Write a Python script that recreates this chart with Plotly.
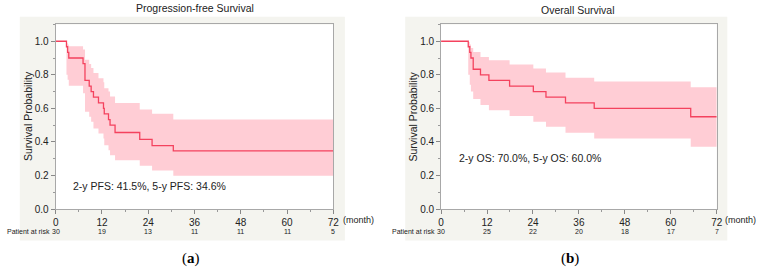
import plotly.graph_objects as go

W, H = 760, 274

# ---------------- data ----------------
pfs_time = [0, 2.8, 3.1, 3.4, 7.1, 7.6, 8.7, 9.2, 9.8, 11.1, 12.4, 12.6, 13.7, 14.1, 15.4, 21.8, 25.0, 30.5, 72]
pfs_surv = [1.0, 0.967, 0.933, 0.900, 0.867, 0.767, 0.733, 0.700, 0.667, 0.633, 0.600, 0.567, 0.533, 0.500, 0.456, 0.415, 0.378, 0.346, 0.346]
pfs_upper = [1.0, 0.99, 0.98, 0.97, 0.95, 0.89, 0.865, 0.84, 0.81, 0.78, 0.755, 0.72, 0.70, 0.67, 0.632, 0.593, 0.568, 0.533, 0.533]
pfs_lower = [1.0, 0.80, 0.77, 0.735, 0.69, 0.58, 0.55, 0.52, 0.48, 0.45, 0.42, 0.38, 0.35, 0.32, 0.29, 0.258, 0.229, 0.198, 0.198]

os_time = [0, 7.1, 7.5, 7.8, 8.4, 10.3, 12.5, 17.9, 24.1, 27.4, 32.5, 40.0, 65.2, 72]
os_surv = [1.0, 0.967, 0.933, 0.900, 0.833, 0.800, 0.767, 0.733, 0.700, 0.667, 0.633, 0.600, 0.550, 0.550]
os_upper = [1.0, 0.995, 0.98, 0.96, 0.936, 0.906, 0.887, 0.861, 0.838, 0.814, 0.783, 0.76, 0.725, 0.725]
os_lower = [1.0, 0.80, 0.74, 0.70, 0.655, 0.62, 0.588, 0.555, 0.52, 0.49, 0.455, 0.42, 0.371, 0.371]

risk_times = [0, 12, 24, 36, 48, 60, 72]
pfs_risk = [30, 19, 13, 11, 11, 11, 5]
os_risk = [30, 25, 22, 20, 18, 17, 7]

titles = ["Progression-free Survival", "Overall Survival"]
notes = ["2-y PFS: 41.5%, 5-y PFS: 34.6%", "2-y OS: 70.0%, 5-y OS: 60.0%"]
labels = ["(<b>a</b>)", "(<b>b</b>)"]

# ---------------- style ----------------
LINE = "#f4425e"
BAND = "#ffcdd5"
PANEL = "#f4f4ef"
FONT = "Liberation Sans"
TXT = "#222222"

def px(x):
    return x / W

def py(y):
    return 1 - y / H

fig = go.Figure()

panels = [
    dict(xa="x", ya="y", t=pfs_time, s=pfs_surv, u=pfs_upper, l=pfs_lower),
    dict(xa="x2", ya="y2", t=os_time, s=os_surv, u=os_upper, l=os_lower),
]
for p in panels:
    fig.add_trace(go.Scatter(x=p["t"], y=p["l"], mode="lines", line=dict(width=0, shape="hv", color=BAND),
                             xaxis=p["xa"], yaxis=p["ya"], showlegend=False, hoverinfo="skip"))
    fig.add_trace(go.Scatter(x=p["t"], y=p["u"], mode="lines", line=dict(width=0, shape="hv", color=BAND),
                             fill="tonexty", fillcolor=BAND,
                             xaxis=p["xa"], yaxis=p["ya"], showlegend=False, hoverinfo="skip"))
    fig.add_trace(go.Scatter(x=p["t"], y=p["s"], mode="lines", line=dict(width=1.3, shape="hv", color=LINE),
                             xaxis=p["xa"], yaxis=p["ya"], showlegend=False))

# plot areas in pixels
PT, PB = 25, 213.7
X1 = (53.3, 334.3)
X2 = (443.3, 722.3)
dom_y = [py(PB), py(PT)]
dom_x1 = [px(X1[0]), px(X1[1])]
dom_x2 = [px(X2[0]), px(X2[1])]

axis_common_x = dict(range=[0, 72], tickvals=risk_times, ticks="outside", ticklen=4, tickcolor="#888",
                     showline=True, linecolor="#a8a8a8", linewidth=1, mirror=True, showgrid=False,
                     zeroline=False, tickfont=dict(family=FONT, size=10, color=TXT),
                     minor=dict(dtick=6, ticks="outside", ticklen=2, tickcolor="#999"))
axis_common_y = dict(range=[0, 1.1], tickvals=[0, 0.2, 0.4, 0.6, 0.8, 1.0], tickformat=".1f",
                     ticks="outside", ticklen=4, tickcolor="#888",
                     showline=True, linecolor="#a8a8a8", linewidth=1, mirror=True, showgrid=False,
                     zeroline=False, tickfont=dict(family=FONT, size=10, color=TXT),
                     minor=dict(dtick=0.1, ticks="outside", ticklen=2, tickcolor="#999"))

fig.update_layout(
    width=W, height=H, margin=dict(l=0, r=0, t=0, b=0),
    paper_bgcolor="white", plot_bgcolor="rgba(0,0,0,0)",
    xaxis=dict(domain=dom_x1, anchor="y", **axis_common_x),
    yaxis=dict(domain=dom_y, anchor="x", **axis_common_y),
    xaxis2=dict(domain=dom_x2, anchor="y2", **axis_common_x),
    yaxis2=dict(domain=dom_y, anchor="x2", **axis_common_y),
)

# gray panels, then white plot areas
for x0, x1 in [(17, 346), (407, 733)]:
    fig.add_shape(type="rect", xref="paper", yref="paper", x0=px(x0), x1=px(x1), y0=py(246), y1=py(17),
                  fillcolor=PANEL, line=dict(width=0), layer="below")
for (x0, x1) in [X1, X2]:
    fig.add_shape(type="rect", xref="paper", yref="paper", x0=px(x0), x1=px(x1), y0=py(PB), y1=py(PT),
                  fillcolor="white", line=dict(width=0), layer="below")

ann = []
# titles
ann.append(dict(text=titles[0], x=px(194), y=py(8), xref="paper", yref="paper", showarrow=False,
                font=dict(family=FONT, size=10.5, color=TXT), xanchor="center", yanchor="middle"))
ann.append(dict(text=titles[1], x=px(582), y=py(10), xref="paper", yref="paper", showarrow=False,
                font=dict(family=FONT, size=10.5, color=TXT), xanchor="center", yanchor="middle"))
# y titles
for xc in [26, 415]:
    ann.append(dict(text="Survival Probability", x=px(xc), y=py(119), xref="paper", yref="paper",
                    showarrow=False, textangle=-90, font=dict(family=FONT, size=10.5, color=TXT),
                    xanchor="center", yanchor="middle"))
# notes
ann.append(dict(text=notes[0], x=px(69), y=py(189.7), xref="paper", yref="paper", showarrow=False,
                font=dict(family=FONT, size=10.5, color=TXT), xanchor="left", yanchor="middle"))
ann.append(dict(text=notes[1], x=px(459), y=py(162), xref="paper", yref="paper", showarrow=False,
                font=dict(family=FONT, size=10.5, color=TXT), xanchor="left", yanchor="middle"))
# (month)
ann.append(dict(text="(month)", x=px(342), y=py(224.5), xref="paper", yref="paper", showarrow=False,
                font=dict(family=FONT, size=9, color=TXT), xanchor="left", yanchor="middle"))
ann.append(dict(text="(month)", x=px(729), y=py(224.5), xref="paper", yref="paper", showarrow=False,
                font=dict(family=FONT, size=9, color=TXT), xanchor="left", yanchor="middle"))
# patient at risk
for xr, xl, risk in [("x", 2, pfs_risk), ("x2", 392, os_risk)]:
    ann.append(dict(text="Patient at risk", x=px(xl), y=py(236.5), xref="paper", yref="paper", showarrow=False,
                    font=dict(family=FONT, size=7, color=TXT), xanchor="left", yanchor="middle"))
    for t, r in zip(risk_times, risk):
        ann.append(dict(text=str(r), x=t, y=py(236.5), xref=xr, yref="paper", showarrow=False,
                        font=dict(family=FONT, size=7, color=TXT), xanchor="center", yanchor="middle"))
# panel labels
ann.append(dict(text=labels[0], x=px(190), y=py(264), xref="paper", yref="paper", showarrow=False,
                font=dict(family="Liberation Serif", size=15, color="#000"), xanchor="center", yanchor="middle"))
ann.append(dict(text=labels[1], x=px(574), y=py(264), xref="paper", yref="paper", showarrow=False,
                font=dict(family="Liberation Serif", size=15, color="#000"), xanchor="center", yanchor="middle"))

fig.update_layout(annotations=ann)
fig.write_html("out.html")
